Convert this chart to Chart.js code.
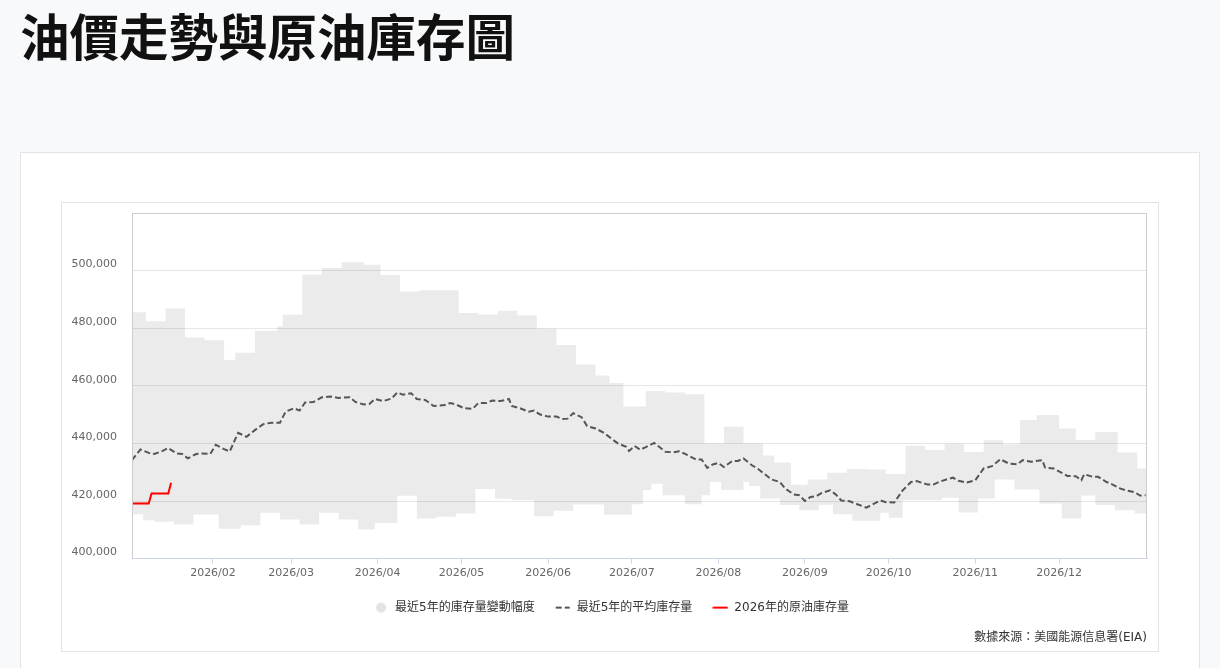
<!DOCTYPE html>
<html lang="zh-Hant">
<head>
<meta charset="utf-8">
<title>油價走勢與原油庫存圖</title>
<script src="https://cdn.jsdelivr.net/npm/chart.js@4.4.1/dist/chart.umd.min.js"></script>
<style>
  html, body { margin: 0; padding: 0; }
  body {
    width: 1220px; height: 668px; overflow: hidden; position: relative;
    background: #f8f9fa;
    font-family: 'Noto Sans CJK TC', 'DejaVu Sans', sans-serif;
  }
  h1 {
    position: absolute; left: 20px; top: 10px; margin: 0;
    font-size: 49.5px; line-height: 50px; font-weight: 700; color: #111;
    font-family: 'Noto Sans CJK TC', sans-serif;
  }
  .card {
    position: absolute; left: 20px; top: 152px; width: 1178px; height: 600px;
    background: #fff; border: 1px solid #e1e5e9;
  }
  .chart-box {
    position: absolute; left: 61px; top: 202px; width: 1096px; height: 448px;
    border: 1px solid #dde5e8; background: #fff;
  }
  .chart-box canvas { display: block; }
</style>
</head>
<body>
<h1>油價走勢與原油庫存圖</h1>
<div class="card"></div>
<div class="chart-box"><canvas id="chart" width="1096" height="448"></canvas></div>

<script>
// days counted from 2026-01-01 (0 = Jan 1)
const monthLabels = ['2026/02', '2026/03', '2026/04', '2026/05', '2026/06',
  '2026/07', '2026/08', '2026/09', '2026/10', '2026/11', '2026/12']

const yTicks = [400000, 420000, 440000, 460000, 480000, 500000, 520000]

// 5-year range, upper edge (value holds from each day until the next)
const upperDays = [0, 7, 14, 21, 28, 35, 39, 46, 54, 56,
  63, 70, 77, 85, 91, 98, 105, 119, 126, 133,
  140, 147, 154, 161, 168, 173, 178, 186, 193, 200,
  207, 214, 221, 228, 232, 238, 244, 251, 258, 265,
  272, 279, 286, 293, 300, 307, 314, 320, 326, 334,
  340, 347, 355, 362, 366]
const upperValues = [485500, 482400, 486800, 476800, 475800, 469000, 471500, 479100, 480600, 484700,
  498600, 500900, 502900, 502000, 498500, 492700, 493200, 485300, 484800, 486100,
  484500, 479800, 474200, 467400, 463600, 461000, 452800, 458200, 457700, 457100,
  440000, 445800, 440000, 435800, 433400, 425600, 427500, 429800, 431100, 430900,
  429400, 439200, 437700, 439900, 437000, 441100, 439700, 448100, 449900, 445200,
  441200, 444000, 436800, 431300, 431300]

// 5-year range, lower edge
const lowerDays = [0, 6, 10, 17, 24, 33, 41, 48, 55, 62,
  69, 76, 83, 89, 97, 104, 111, 118, 125, 132,
  138, 146, 153, 160, 171, 181, 185, 188, 192, 200,
  206, 209, 213, 221, 223, 227, 234, 241, 248, 253,
  260, 270, 273, 278, 292, 298, 305, 311, 318, 327,
  335, 342, 347, 354, 361, 366]
const lowerValues = [415400, 413300, 412800, 411800, 415300, 410400, 411600, 415900, 413600, 411800,
  415900, 413600, 410100, 412400, 421800, 413900, 414500, 415700, 424200, 420800,
  420300, 414700, 416600, 418800, 415200, 418900, 423800, 426000, 422000, 418900,
  422000, 426600, 423800, 426700, 425200, 420900, 418600, 416800, 418700, 415400,
  413100, 415900, 414200, 420300, 421100, 416000, 420900, 427500, 424000, 419100,
  413900, 421900, 418600, 416800, 415700, 415700]

// 5-year average
const meanDays = [2, 5, 8, 10, 13, 15, 18, 20, 22, 25,
  27, 30, 32, 35, 37, 40, 43, 46, 49, 52,
  55, 57, 60, 62, 64, 67, 70, 73, 76, 80,
  82, 85, 87, 89, 92, 95, 97, 99, 102, 104,
  107, 110, 114, 116, 118, 121, 124, 126, 129, 131,
  134, 137, 138, 141, 144, 146, 148, 151, 154, 156,
  158, 160, 163, 165, 168, 171, 174, 176, 179, 180,
  182, 184, 186, 189, 190, 193, 196, 198, 201, 204,
  206, 208, 210, 212, 214, 217, 219, 221, 224, 226,
  229, 231, 234, 236, 239, 241, 243, 245, 247, 249,
  252, 254, 256, 259, 262, 265, 267, 270, 272, 275,
  278, 281, 283, 287, 289, 291, 294, 296, 298, 301,
  304, 307, 310, 313, 316, 319, 321, 324, 328, 329,
  332, 335, 337, 340, 342, 343, 346, 348, 351, 353,
  356, 358, 361, 363, 365]
const meanValues = [434200, 437900, 436700, 436300, 437400, 438400, 436500, 436300, 434800, 436300,
  436500, 436300, 439500, 438000, 437200, 443700, 442300, 444600, 446700, 447200,
  447200, 451000, 452200, 451400, 454200, 454400, 456000, 456300, 455800, 456000,
  454400, 453500, 453700, 455400, 454700, 455600, 457700, 456900, 457400, 455400,
  455100, 453000, 453300, 454000, 453500, 452200, 452000, 454000, 454000, 454900,
  454700, 455400, 453000, 452200, 451000, 451400, 450100, 449300, 449300, 448500,
  448600, 450500, 449100, 446000, 445200, 443700, 441400, 440000, 438800, 437400,
  439100, 437800, 438700, 440200, 439400, 437100, 436900, 437300, 435900, 434400,
  434400, 431500, 432700, 433200, 431800, 433900, 433900, 434800, 432400, 431300,
  429000, 427500, 426600, 424300, 422300, 422000, 420000, 421400, 421600, 422800,
  423700, 422300, 420200, 419900, 418800, 417700, 418700, 420200, 419600, 419500,
  423700, 426600, 426900, 425700, 425700, 426600, 427600, 428100, 427000, 426400,
  427200, 431300, 432100, 434500, 433000, 432700, 434200, 433600, 434200, 431600,
  431300, 429800, 428700, 428600, 427200, 429300, 428400, 428400, 426600, 425800,
  424300, 423700, 423100, 421900, 422000]

// 2026 stocks so far
const stockDays = [2, 8, 9, 15, 16]
const stockValues = [419100, 419100, 422600, 422600, 426300]

const seriesNames = ['最近5年的庫存量變動幅度', '最近5年的平均庫存量', '2026年的原油庫存量']
const sourceText = '數據來源：美國能源信息署(EIA)'

const pairs = (xs, ys) => xs.map((x, i) => ({ x: x, y: ys[i] }))
const monthStarts = monthLabels.map((_, i) =>
  Math.round((Date.UTC(2026, i + 1, 1) - Date.UTC(2026, 0, 1)) / 86400000))

const axisFont = { family: "'DejaVu Sans', sans-serif", size: 11 }
const textFont = { family: "'DejaVu Sans', 'Noto Sans CJK TC', sans-serif", size: 12 }

// small legend symbols
function legendIcon(draw) {
  const c = document.createElement('canvas')
  c.width = 16
  c.height = 12
  draw(c.getContext('2d'))
  return c
}
const legendIcons = {
  0: legendIcon(g => {
    g.fillStyle = '#e3e3e3'
    g.beginPath()
    g.arc(8, 6, 5, 0, Math.PI * 2)
    g.fill()
  }),
  2: legendIcon(g => {
    g.strokeStyle = '#555'
    g.lineWidth = 2
    g.setLineDash([6, 3])
    g.beginPath()
    g.moveTo(1, 6)
    g.lineTo(15, 6)
    g.stroke()
  }),
  3: legendIcon(g => {
    g.strokeStyle = '#ff0000'
    g.lineWidth = 2
    g.beginPath()
    g.moveTo(0.5, 6)
    g.lineTo(15.5, 6)
    g.stroke()
  })
}

// plot frame (top / left / right), bottom is the x axis line
const plotFrame = {
  id: 'plotFrame',
  afterLayout(chart) {
    // nudge the legend row a little to the right
    chart.legend.left += 2
    chart.legend.right += 2
  },
  afterDatasetsDraw(chart) {
    const { ctx, chartArea: a } = chart
    const l = Math.round(a.left) + 0.5
    const r = Math.round(a.right) - 0.5
    const t = Math.round(a.top) + 0.5
    const b = Math.round(a.bottom)
    ctx.save()
    ctx.strokeStyle = '#cccccc'
    ctx.lineWidth = 1
    ctx.beginPath()
    ctx.moveTo(l, b)
    ctx.lineTo(l, t)
    ctx.lineTo(r, t)
    ctx.lineTo(r, b)
    ctx.stroke()
    ctx.restore()
  }
}

new Chart(document.getElementById('chart'), {
  type: 'line',
  data: {
    datasets: [
      {
        label: seriesNames[0],
        data: pairs(upperDays, upperValues),
        stepped: true,
        borderWidth: 0,
        borderColor: 'rgba(0,0,0,0)',
        backgroundColor: 'rgba(0,0,0,0.08)',
        pointRadius: 0,
        fill: '+1'
      },
      {
        label: 'lower',
        data: pairs(lowerDays, lowerValues),
        stepped: true,
        borderWidth: 0,
        borderColor: 'rgba(0,0,0,0)',
        pointRadius: 0,
        fill: false
      },
      {
        label: seriesNames[1],
        data: pairs(meanDays, meanValues),
        borderColor: '#555555',
        borderWidth: 2,
        borderDash: [6, 3],
        pointRadius: 0,
        fill: false
      },
      {
        label: seriesNames[2],
        data: pairs(stockDays, stockValues),
        borderColor: '#ff0000',
        borderWidth: 2,
        pointRadius: 0,
        fill: false
      }
    ]
  },
  options: {
    responsive: false,
    animation: false,
    events: [],
    layout: { padding: { left: 9, right: 11, top: 10, bottom: 0 } },
    plugins: {
      filler: { drawTime: 'beforeDatasetsDraw' },
      tooltip: { enabled: false },
      legend: {
        position: 'bottom',
        labels: {
          usePointStyle: true,
          pointStyleWidth: 16,
          padding: 20,
          color: '#333333',
          font: textFont,
          filter: item => item.datasetIndex !== 1,
          generateLabels(chart) {
            const items = Chart.defaults.plugins.legend.labels.generateLabels(chart)
            items.forEach(item => { item.pointStyle = legendIcons[item.datasetIndex] })
            return items
          }
        }
      },
      subtitle: {
        display: true,
        text: sourceText,
        position: 'bottom',
        align: 'end',
        color: '#333333',
        font: { ...textFont, weight: 'normal' },
        padding: { top: 7, bottom: 6 }
      }
    },
    scales: {
      x: {
        type: 'linear',
        min: 2,
        max: 365.5,
        afterBuildTicks: scale => { scale.ticks = monthStarts.map(v => ({ value: v })) },
        afterFit: scale => { scale.height = 23 },
        grid: { drawOnChartArea: false, tickLength: 5, color: '#ccd6eb' },
        border: { color: '#ccd6eb' },
        ticks: {
          autoSkip: false,
          maxRotation: 0,
          padding: 3,
          color: '#666666',
          font: axisFont,
          callback: v => monthLabels[monthStarts.indexOf(v)]
        }
      },
      y: {
        min: yTicks[0],
        max: yTicks[yTicks.length - 1],
        afterBuildTicks: scale => { scale.ticks = yTicks.map(v => ({ value: v })) },
        afterFit: scale => {
          scale.width = 61
          scale.paddingTop = 0
          scale.paddingBottom = 0
        },
        grid: { color: '#e6e6e6', drawTicks: false },
        border: { display: false },
        ticks: {
          padding: 15,
          labelOffset: -6,
          color: '#666666',
          font: axisFont,
          callback: v => (v === yTicks[yTicks.length - 1] ? '' : v.toLocaleString('en-US'))
        }
      }
    }
  },
  plugins: [plotFrame]
})
</script>
</body>
</html>
